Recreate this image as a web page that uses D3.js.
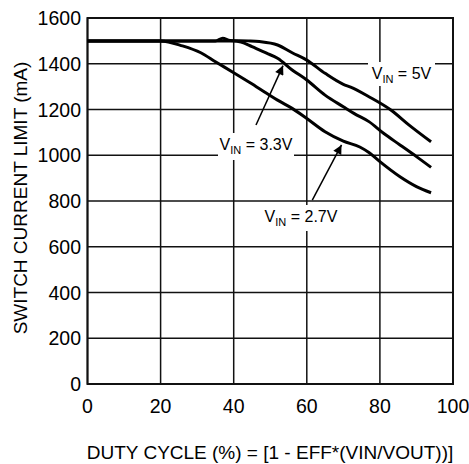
<!DOCTYPE html>
<html>
<head>
<meta charset="utf-8">
<script src="https://cdn.jsdelivr.net/npm/d3@7"></script>
<style>
  html, body { margin: 0; padding: 0; background: #fff; }
  svg { display: block; font-family: Arial, "Liberation Sans", Helvetica, sans-serif; }
</style>
</head>
<body>
<svg id="chart" width="469" height="464"></svg>
<script>
// duty cycle (%) vs switch current limit (mA)
var xTicks = [0, 20, 40, 60, 80, 100];
var yTicks = [0, 200, 400, 600, 800, 1000, 1200, 1400, 1600];

var duty27 = [0, 20, 26, 31, 35, 40, 44.5, 49, 52, 56, 60, 65, 70, 74.5, 77, 80, 85.5, 90, 94];
var vin27 = [1500, 1500, 1478, 1448, 1409, 1361, 1317, 1271, 1241, 1205, 1161, 1103, 1062, 1036, 1012, 972, 906, 863, 836];

var duty33 = [0, 37, 40, 42, 45, 49, 52, 56, 60, 65, 70, 73, 77, 81, 85.5, 90, 94];
var vin33 = [1500, 1500, 1500, 1495, 1475, 1446, 1424, 1373, 1329, 1263, 1212, 1182, 1147, 1096, 1045, 994, 947];

var duty5 = [0, 35, 37, 39, 44, 47, 52, 56, 60, 65, 70, 72, 77, 83, 88, 94];
var vin5 = [1500, 1500, 1512, 1502, 1500, 1497, 1482, 1448, 1416, 1358, 1310, 1298, 1256, 1198, 1132, 1059];

var labels = [
  { text: '2.7V', box: [265, 205, 72, 26], from: [61.5, 804], to: [69.5, 1045] },
  { text: '3.3V', box: [218, 133, 76, 27], from: [46.1, 1132], to: [53.5, 1392] },
  { text: '5V', box: [368, 62, 67, 24] }
];

var svg = d3.select('#chart');

var x = d3.scaleLinear().domain([0, 100]).range([87.5, 453]);
var y = d3.scaleLinear().domain([0, 1600]).range([384, 18]);

svg.append('defs').append('marker')
  .attr('id', 'head')
  .attr('viewBox', '0 0 10 10')
  .attr('refX', 10)
  .attr('refY', 5)
  .attr('markerWidth', 11)
  .attr('markerHeight', 9)
  .attr('markerUnits', 'userSpaceOnUse')
  .attr('orient', 'auto')
  .append('path')
  .attr('d', 'M0,0L10,5L0,10Z')
  .attr('fill', '#000');

// grid
svg.append('g').selectAll('line')
  .data(xTicks)
  .enter().append('line')
  .attr('x1', d => x(d)).attr('x2', d => x(d))
  .attr('y1', y(0)).attr('y2', y(1600))
  .attr('stroke', '#111').attr('stroke-width', 1.5);

svg.append('g').selectAll('line')
  .data(yTicks)
  .enter().append('line')
  .attr('x1', x(0)).attr('x2', x(100))
  .attr('y1', d => y(d)).attr('y2', d => y(d))
  .attr('stroke', '#111').attr('stroke-width', 1.5);

svg.append('rect')
  .attr('x', x(0)).attr('y', y(1600))
  .attr('width', x(100) - x(0)).attr('height', y(0) - y(1600))
  .attr('fill', 'none').attr('stroke', '#111').attr('stroke-width', 2);

// tick labels
svg.append('g').selectAll('text')
  .data(xTicks)
  .enter().append('text')
  .attr('x', d => x(d)).attr('y', 413)
  .attr('text-anchor', 'middle')
  .attr('font-size', 19.5)
  .text(d => d);

svg.append('g').selectAll('text')
  .data(yTicks)
  .enter().append('text')
  .attr('x', 81).attr('y', d => y(d) + 7)
  .attr('text-anchor', 'end')
  .attr('font-size', 19.5)
  .text(d => d);

// axis titles
svg.append('text')
  .attr('x', 270).attr('y', 459)
  .attr('text-anchor', 'middle')
  .attr('font-size', 19)
  .text('DUTY CYCLE (%) = [1 - EFF*(VIN/VOUT))]');

svg.append('text')
  .attr('transform', 'translate(27,198) rotate(-90)')
  .attr('text-anchor', 'middle')
  .attr('font-size', 19)
  .text('SWITCH CURRENT LIMIT (mA)');

// curves
var line = d3.line()
  .x(d => x(d[0]))
  .y(d => y(d[1]))
  .curve(d3.curveMonotoneX);

[[duty5, vin5], [duty33, vin33], [duty27, vin27]].forEach(function(s) {
  svg.append('path')
    .datum(d3.zip(s[0], s[1]))
    .attr('fill', 'none')
    .attr('stroke', '#000')
    .attr('stroke-width', 3)
    .attr('stroke-linejoin', 'round')
    .attr('d', line);
});

// labels with white boxes and arrows
labels.forEach(function(l) {
  svg.append('rect')
    .attr('x', l.box[0]).attr('y', l.box[1])
    .attr('width', l.box[2]).attr('height', l.box[3])
    .attr('fill', '#fff');
  var t = svg.append('text')
    .attr('x', l.box[0] + l.box[2] / 2)
    .attr('y', l.box[1] + 17)
    .attr('text-anchor', 'middle')
    .attr('font-size', 16);
  t.append('tspan').text('V');
  t.append('tspan').attr('font-size', 11).attr('dy', 4).text('IN');
  t.append('tspan').attr('dy', -4).text(' = ' + l.text);
  if (l.from) {
    svg.append('line')
      .attr('x1', x(l.from[0])).attr('y1', y(l.from[1]))
      .attr('x2', x(l.to[0])).attr('y2', y(l.to[1]))
      .attr('stroke', '#000').attr('stroke-width', 1.5)
      .attr('marker-end', 'url(#head)');
  }
});
</script>
</body>
</html>
